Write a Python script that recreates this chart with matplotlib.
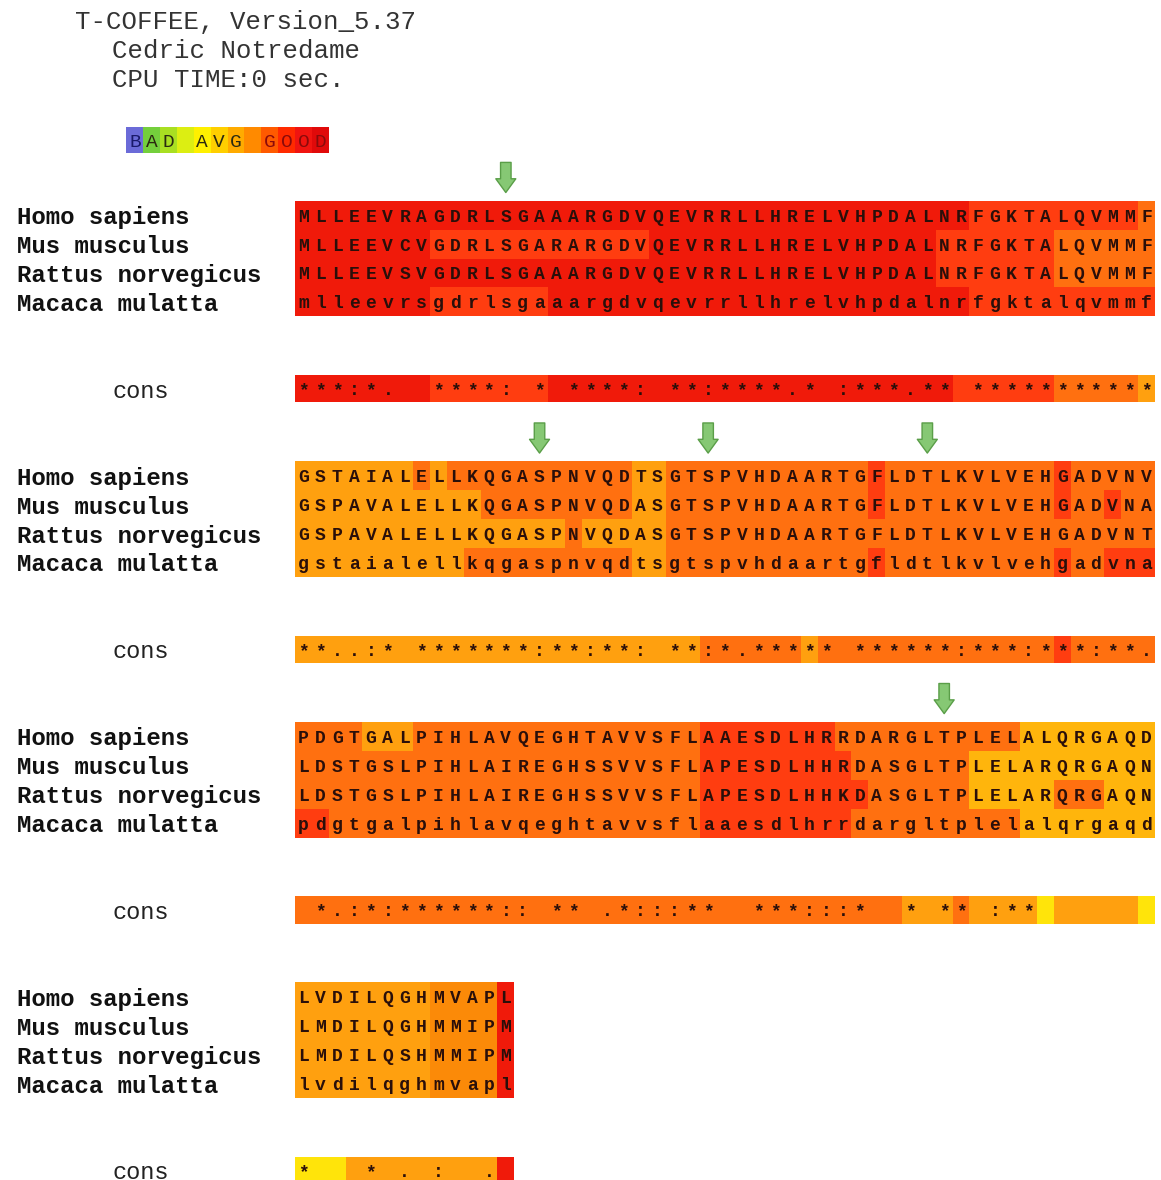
import matplotlib
matplotlib.use("Agg")
import matplotlib.pyplot as plt
import numpy as np
from matplotlib.colors import ListedColormap, BoundaryNorm

# ---------------- data ----------------
species = ["Homo sapiens", "Mus musculus", "Rattus norvegicus", "Macaca mulatta"]

block1_seqs = [
    "MLLEEVRAGDRLSGAAARGDVQEVRRLLHRELVHPDALNRFGKTALQVMMF",
    "MLLEEVCVGDRLSGARARGDVQEVRRLLHRELVHPDALNRFGKTALQVMMF",
    "MLLEEVSVGDRLSGAAARGDVQEVRRLLHRELVHPDALNRFGKTALQVMMF",
    "mlleevrsgdrlsgaaargdvqevrrllhrelvhpdalnrfgktalqvmmf",
]
block1_scores = [
    "9999999999" "9999999999" "9999999999" "9999999999" "8888888888" "7",
    "99999999" "8888888888888" "99999999999999999" "8888888" "777777",
    "9999999999" "9999999999" "9999999999" "99999999" "8888888" "777777",
    "99999999" "8888888" "9999999999999999999999999" "88888888888",
]
block1_cons = "***:*.  ****: * ****: **:****.* :***.** ***********"
block1_cons_scores = "99999999" "8888888" "999999999999999999999999" "888888" "77777" "5"

block2_seqs = [
    "GSTAIALELLKQGASPNVQDTSGTSPVHDAARTGFLDTLKVLVEHGADVNV",
    "GSPAVALELLKQGASPNVQDASGTSPVHDAARTGFLDTLKVLVEHGADVNA",
    "GSPAVALELLKQGASPNVQDASGTSPVHDAARTGFLDTLKVLVEHGADVNT",
    "gstaialellkqgaspnvqdtsgtspvhdaartgfldtlkvlvehgadvna",
]
block2_scores = [
    "5555555" "7" "5" "77777777777" "55" "777777777777" "8" "7777777777" "8" "77777",
    "55555555555" "777777777" "55" "777777777777" "8" "7777777777" "8" "77" "8" "77",
    "5555555555555555" "7" "55555" "77777777777777777777777777777",
    "5555555555" "7777777777" "55" "777777777777" "8" "7777777777" "8" "77" "888",
]
block2_cons = "**..:* *******:**:**: **:*.***** ******:***:***:**."
block2_cons_scores = "555555555555555555555555" "777777" "5" "77777777777777" "8" "77777"

block3_seqs = [
    "PDGTGALPIHLAVQEGHTAVVSFLAAESDLHRRDARGLTPLELALQRGAQD",
    "LDSTGSLPIHLAIREGHSSVVSFLAPESDLHHRDASGLTPLELARQRGAQN",
    "LDSTGSLPIHLAIREGHSSVVSFLAPESDLHHKDASGLTPLELARQRGAQN",
    "pdgtgalpihlavqeghtavvsflaaesdlhrrdargltplelalqrgaqd",
]
block3_scores = [
    "7777" "555" "77777777777777777" "88888888" "77777777777" "44444444",
    "777777777777777777777777" "888888888" "7777777" "44444444444",
    "777777777777777777777777" "8888888888" "777777" "44444" "777" "444",
    "88" "7777777777777777777777" "888888888" "7777777777" "44444444",
]
block3_cons = " *.:*:******:: ** .*:::**  ***:::*  * ** :**       "
block3_cons_scores = "777777777777777777777777777777777777" "555" "7" "5555" "3" "55555" "3"

block4_seqs = ["LVDILQGHMVAPL", "LMDILQGHMMIPM", "LMDILQSHMMIPM", "lvdilqghmvapl"]
block4_scores = ["5555555566669", "5555555566669", "5555555566669", "5555555566669"]
block4_cons = "*   * . :  . "
block4_cons_scores = "3335555555559"

# (block index, column) of the green markers
arrow_marks = [(0, 12), (1, 14), (1, 24), (1, 37), (2, 38)]

header_lines = ["T-COFFEE, Version_5.37", "Cedric Notredame", "CPU TIME:0 sec."]
legend_text = "BAD AVG GOOD"
legend_colors = ["#6b6bd8", "#74cf3c", "#a9df22", "#dcee12", "#fff000", "#ffcf00",
                 "#ffab00", "#ff8a00", "#ff5a00", "#ff2a00", "#f01410", "#e00a0a"]

score_levels = ["3", "4", "5", "6", "7", "8", "9"]
score_colors = ["#ffe40a", "#ffb50c", "#ffa00f", "#fb8a08", "#ff7010", "#ff3d10", "#f01a0a"]

blocks = [
    (block1_seqs, block1_scores, block1_cons, block1_cons_scores),
    (block2_seqs, block2_scores, block2_cons, block2_cons_scores),
    (block3_seqs, block3_scores, block3_cons, block3_cons_scores),
    (block4_seqs, block4_scores, block4_cons, block4_cons_scores),
]

# ---------------- drawing ----------------
MONO = ["Liberation Mono", "DejaVu Sans Mono"]
cmap = ListedColormap(score_colors)
norm = BoundaryNorm(np.arange(len(score_levels) + 1) - 0.5, cmap.N)

fig = plt.figure(figsize=(11.61, 11.80), dpi=100)
ax = fig.add_axes([0, 0, 1, 1])
ax.set_xlim(-17.50, 51.36)
ax.set_ylim(33.33, -7.43)
ax.axis("off")

seq_color = "#2a0f0a"
BLOCK_STEP = 9
CONS_OFFSET = 6


def draw_row(row, letters, scores, half=0.5, fs=13):
    n = len(scores)
    vals = np.array([[score_levels.index(ch) for ch in scores]])
    ax.pcolormesh(np.arange(n + 1), [row - half, row + half], vals,
                  cmap=cmap, norm=norm, shading="flat", linewidth=0,
                  antialiased=False)
    for c, ch in enumerate(letters):
        if ch.strip():
            ax.text(c + 0.5, row, ch, ha="center", va="center_baseline",
                    fontsize=fs, fontweight="bold", family=MONO, color=seq_color)


for b, (seqs, scores, cons, cons_scores) in enumerate(blocks):
    top = b * BLOCK_STEP
    for i, (name, s, sc) in enumerate(zip(species, seqs, scores)):
        r = top + i
        draw_row(r, s, sc)
        ax.text(-16.49, r, name, ha="left", va="center_baseline", fontsize=17.3,
                fontweight="bold", family=MONO, color="#111111")
    rc = top + CONS_OFFSET
    draw_row(rc, cons, cons_scores, half=0.47)
    ax.text(-10.85, rc, "cons", ha="left", va="center_baseline", fontsize=17,
            family=MONO, color="#222222")

for b, c in arrow_marks:
    top = b * BLOCK_STEP
    ax.annotate("", xy=(c + 0.5, top - 0.78), xytext=(c + 0.5, top - 1.82),
                arrowprops=dict(arrowstyle="simple,head_length=0.55,head_width=0.8,tail_width=0.42",
                                fc="#86c874", ec="#5a9e48", lw=1.0, mutation_scale=18,
                                shrinkA=0, shrinkB=0))

# header
header_pos = [(-13.05, -6.74), (-10.85, -5.77), (-10.85, -4.77)]
for (hx, hy), line in zip(header_pos, header_lines):
    ax.text(hx, hy, line, ha="left", va="center_baseline", fontsize=18.5,
            family=MONO, color="#333333")

# colour key
leg_row = -2.59
leg_x0 = -10
n_leg = len(legend_text)
ax.pcolormesh(np.arange(n_leg + 1) + leg_x0, [leg_row - 0.45, leg_row + 0.45],
              np.arange(n_leg)[None, :], cmap=ListedColormap(legend_colors),
              norm=BoundaryNorm(np.arange(n_leg + 1) - 0.5, n_leg), shading="flat")
leg_text_colors = ["#1a1a6a"] + ["#2a2a10"] * 7 + ["#8a0a0a"] * 4
for k, ch in enumerate(legend_text):
    if ch.strip():
        ax.text(leg_x0 + k + 0.5, leg_row, ch, ha="center", va="center_baseline",
                fontsize=14, family=MONO, color=leg_text_colors[k])

fig.savefig("out.png", dpi=100, facecolor="white")
